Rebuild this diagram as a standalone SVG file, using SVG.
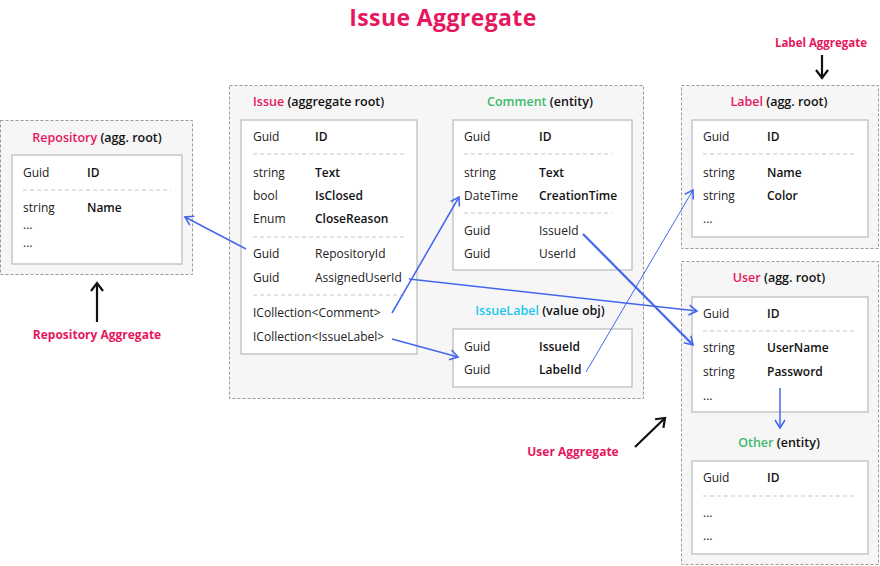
<svg xmlns="http://www.w3.org/2000/svg" width="880" height="566" viewBox="0 0 880 566">
<defs>
<marker id="blue" markerUnits="userSpaceOnUse" markerWidth="14" markerHeight="14" refX="10" refY="6" orient="auto" viewBox="0 0 14 12">
<path d="M2,1 L10,6 L2,11" fill="none" stroke="#4466ee" stroke-width="1.6"/>
</marker>
<marker id="black" markerUnits="userSpaceOnUse" markerWidth="14" markerHeight="14" refX="11" refY="7" orient="auto" viewBox="0 0 14 14">
<path d="M3,1 L11,7 L3,13" fill="none" stroke="#111" stroke-width="2.2"/>
</marker>
</defs>
<style>
text{font-family:"Open Sans","Liberation Sans",sans-serif;font-size:12px;fill:#222}
.b{font-weight:600;fill:#111}
.t{font-weight:600;font-size:12.5px;fill:#111;text-anchor:middle}
.pink{fill:#e6175c}
.green{fill:#3dba6e}
.cyan{fill:#1cc6ef}
.outer{fill:#f6f6f6;stroke:#999;stroke-width:1;stroke-dasharray:3 2}
.inner{fill:#fff;stroke:#c6c6c6;stroke-width:1.5}
.sep{stroke:#c8c8c8;stroke-width:1;stroke-dasharray:4 3}
.lbl{font-weight:700;fill:#e6175c;text-anchor:middle}
.c{fill:none;stroke:#4466ee;stroke-width:1.5}
.k{fill:none;stroke:#111;stroke-width:2.2}
</style>
<text x="443" y="26" style="font-size:23px;font-weight:700;text-anchor:middle;letter-spacing:0.4px" class="pink">Issue Aggregate</text>

<g id="repository">
<rect class="outer" x="0.5" y="120.5" width="192" height="154"/>
<text class="t" x="97" y="142"><tspan class="pink">Repository</tspan> (agg. root)</text>
<rect class="inner" x="12" y="155" width="170" height="109"/>
<text x="23" y="177">Guid</text><text class="b" x="87" y="177">ID</text>
<line class="sep" x1="23" y1="190" x2="171" y2="190"/>
<text x="23" y="212">string</text><text class="b" x="87" y="212">Name</text>
<text x="23" y="229">...</text>
<text x="23" y="247">...</text>
</g>

<g id="issue-aggregate">
<rect class="outer" x="229.5" y="85.5" width="414" height="313"/>
</g>

<g id="issue">
<text class="t" x="253" y="106" style="text-anchor:start"><tspan class="pink">Issue</tspan> (aggregate root)</text>
<rect class="inner" x="241" y="120" width="176" height="234"/>
<text x="253" y="141">Guid</text><text class="b" x="315" y="141">ID</text>
<line class="sep" x1="253" y1="154" x2="405" y2="154"/>
<text x="253" y="177">string</text><text class="b" x="315" y="177">Text</text>
<text x="253" y="200">bool</text><text class="b" x="315" y="200">IsClosed</text>
<text x="253" y="223">Enum</text><text class="b" x="315" y="223">CloseReason</text>
<line class="sep" x1="253" y1="237" x2="405" y2="237"/>
<text x="253" y="258">Guid</text><text x="315" y="258">RepositoryId</text>
<text x="253" y="282">Guid</text><text x="315" y="282">AssignedUserId</text>
<line class="sep" x1="253" y1="295" x2="405" y2="295"/>
<text x="253" y="317">ICollection&lt;Comment&gt;</text>
<text x="253" y="341">ICollection&lt;IssueLabel&gt;</text>
</g>

<g id="comment">
<text class="t" x="540" y="106"><tspan class="green">Comment</tspan> (entity)</text>
<rect class="inner" x="453" y="120" width="179" height="150"/>
<text x="464" y="141">Guid</text><text class="b" x="539" y="141">ID</text>
<line class="sep" x1="464" y1="154" x2="612" y2="154"/>
<text x="464" y="177">string</text><text class="b" x="539" y="177">Text</text>
<text x="464" y="200">DateTime</text><text class="b" x="539" y="200">CreationTime</text>
<line class="sep" x1="464" y1="213" x2="612" y2="213"/>
<text x="464" y="235">Guid</text><text x="539" y="235">IssueId</text>
<text x="464" y="258">Guid</text><text x="539" y="258">UserId</text>
</g>

<g id="issuelabel">
<text class="t" x="540" y="315"><tspan class="cyan">IssueLabel</tspan> (value obj)</text>
<rect class="inner" x="453" y="329" width="179" height="58"/>
<text x="464" y="351">Guid</text><text class="b" x="539" y="351">IssueId</text>
<text x="464" y="374">Guid</text><text class="b" x="539" y="374">LabelId</text>
</g>

<g id="label">
<rect class="outer" x="681.5" y="85.5" width="197" height="163"/>
<text class="t" x="779" y="106"><tspan class="pink">Label</tspan> (agg. root)</text>
<rect class="inner" x="692" y="120" width="176" height="117"/>
<text x="703" y="141">Guid</text><text class="b" x="767" y="141">ID</text>
<line class="sep" x1="703" y1="154" x2="857" y2="154"/>
<text x="703" y="177">string</text><text class="b" x="767" y="177">Name</text>
<text x="703" y="200">string</text><text class="b" x="767" y="200">Color</text>
<text x="703" y="223">...</text>
</g>

<g id="user">
<rect class="outer" x="681.5" y="261.5" width="197" height="303"/>
<text class="t" x="779" y="282"><tspan class="pink">User</tspan> (agg. root)</text>
<rect class="inner" x="692" y="297" width="176" height="115"/>
<text x="703" y="318">Guid</text><text class="b" x="767" y="318">ID</text>
<line class="sep" x1="703" y1="331" x2="857" y2="331"/>
<text x="703" y="352">string</text><text class="b" x="767" y="352">UserName</text>
<text x="703" y="376">string</text><text class="b" x="767" y="376">Password</text>
<text x="703" y="400">...</text>
</g>

<g id="other">
<text class="t" x="779" y="447"><tspan class="green">Other</tspan> (entity)</text>
<rect class="inner" x="692" y="461" width="176" height="93"/>
<text x="703" y="482">Guid</text><text class="b" x="767" y="482">ID</text>
<line class="sep" x1="703" y1="496" x2="857" y2="496"/>
<text x="703" y="517">...</text>
<text x="703" y="540">...</text>
</g>

<g id="aggregate-labels">
<text class="lbl" x="821" y="47" style="font-size:11.5px">Label Aggregate</text>
<text class="lbl" x="97" y="339">Repository Aggregate</text>
<text class="lbl" x="573" y="456">User Aggregate</text>
</g>

<g id="connectors">
<line class="k" x1="822" y1="55" x2="822" y2="78" marker-end="url(#black)"/>
<line class="k" x1="97" y1="322" x2="97" y2="283" marker-end="url(#black)"/>
<line class="k" x1="635" y1="447" x2="665" y2="418" marker-end="url(#black)"/>
<line class="c" x1="246" y1="249" x2="185" y2="217" marker-end="url(#blue)"/>
<line class="c" x1="392" y1="313" x2="459" y2="197" marker-end="url(#blue)"/>
<line class="c" x1="392" y1="339" x2="458" y2="357" marker-end="url(#blue)"/>
<line class="c" x1="409" y1="279" x2="697" y2="311" marker-end="url(#blue)"/>
<line class="c" x1="583" y1="234" x2="693" y2="345" style="stroke-width:2.2" marker-end="url(#blue)"/>
<line class="c" x1="586" y1="372" x2="693" y2="190" style="stroke-width:1" marker-end="url(#blue)"/>
<line class="c" x1="780" y1="388" x2="780" y2="428" marker-end="url(#blue)"/>
</g>
</svg>
